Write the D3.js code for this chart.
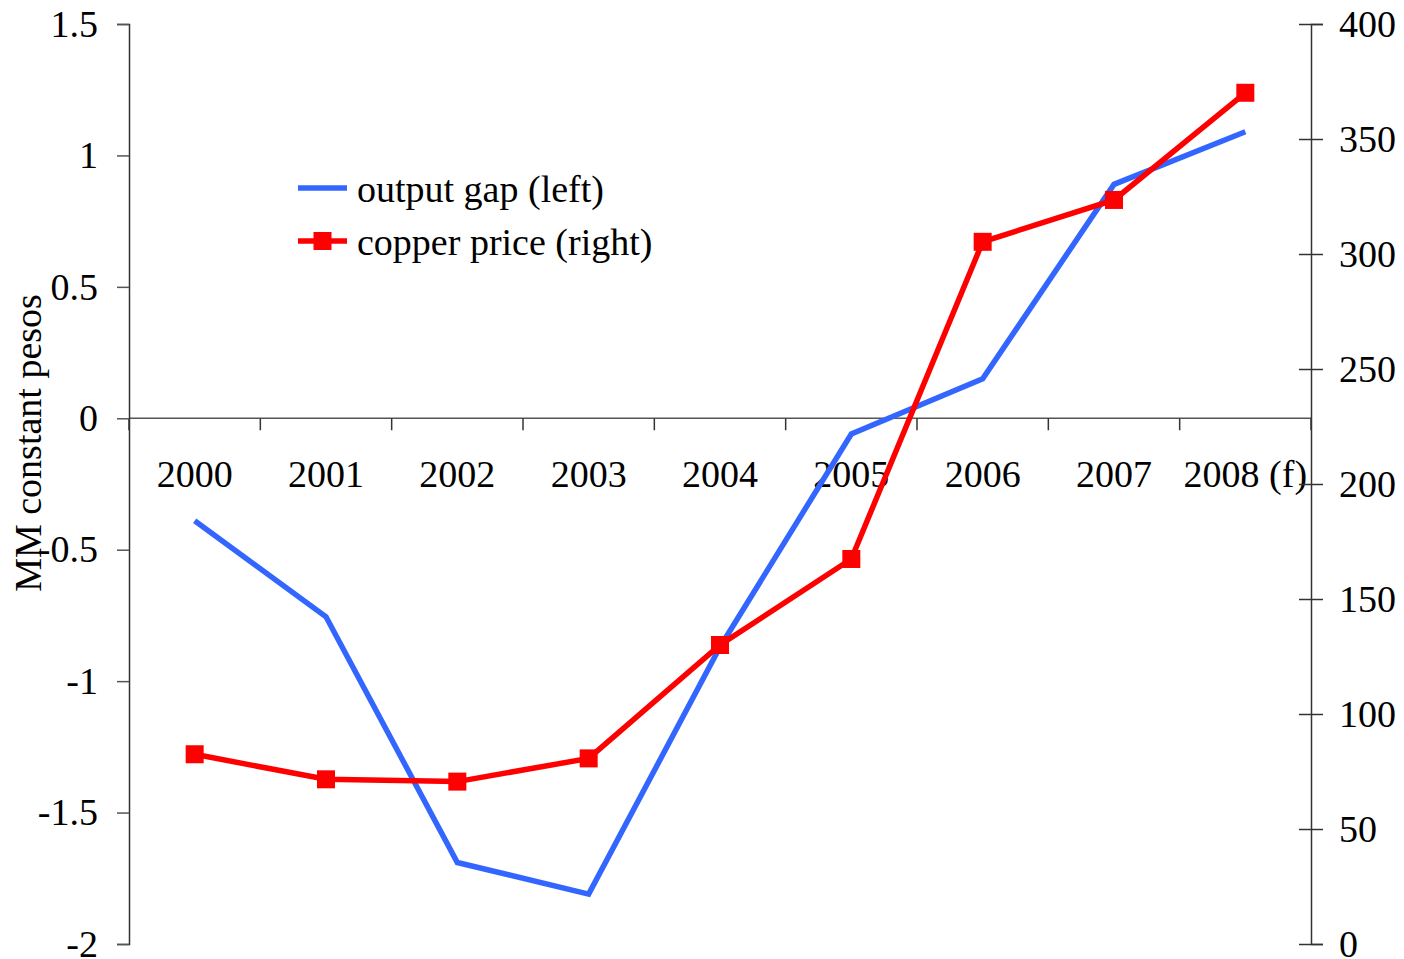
<!DOCTYPE html>
<html>
<head>
<meta charset="utf-8">
<script src="https://cdn.jsdelivr.net/npm/d3@7/dist/d3.min.js"></script>
<style>
  html, body { margin: 0; padding: 0; background: #fff; }
  svg { display: block; }
  text { font-family: "Liberation Serif", "Times New Roman", serif; fill: #000; }
</style>
</head>
<body>
<svg id="chart" width="1404" height="959"></svg>
<script>
// Years on the category axis
const years = ["2000", "2001", "2002", "2003", "2004", "2005", "2006", "2007", "2008 (f)"];
// Output gap, MM constant pesos (left axis)
const outputGap = [-0.39, -0.755, -1.69, -1.81, -0.87, -0.06, 0.15, 0.89, 1.09];
// Copper price (right axis)
const copperPrice = [82.5, 71.6, 70.6, 80.7, 130, 167.4, 305.3, 323.5, 370.1];
// Tick values for both value axes
const leftTicks = [-2, -1.5, -1, -0.5, 0, 0.5, 1, 1.5];
const rightTicks = [0, 50, 100, 150, 200, 250, 300, 350, 400];

const FONT = 38;
const margin = { left: 129, right: 1311, top: 24, bottom: 944 };

const svg = d3.select("#chart");

const x = d3.scaleBand().domain(years).range([margin.left, margin.right]).padding(0);
const yL = d3.scaleLinear().domain([-2, 1.5]).range([margin.bottom, margin.top]);
const yR = d3.scaleLinear().domain([0, 400]).range([margin.bottom, margin.top]);
const cx = d => x(d) + x.bandwidth() / 2;

// Horizontal zero line with category separators
const zeroY = yL(0);
const zero = svg.append("g");
zero.append("line")
  .attr("x1", margin.left).attr("x2", margin.right)
  .attr("y1", zeroY).attr("y2", zeroY)
  .attr("stroke", "#555").attr("stroke-width", 1.5);
zero.selectAll("line.sep")
  .data(years.map(d => x(d)).concat([margin.right]))
  .join("line").attr("class", "sep")
  .attr("x1", d => d).attr("x2", d => d)
  .attr("y1", zeroY).attr("y2", zeroY + 12)
  .attr("stroke", "#333").attr("stroke-width", 1.5);
zero.selectAll("text")
  .data(years)
  .join("text")
  .attr("x", d => cx(d))
  .attr("y", 487)
  .attr("text-anchor", "middle")
  .attr("font-size", FONT)
  .text(d => d);

// Left axis
const left = svg.append("g")
  .attr("transform", `translate(${margin.left},0)`)
  .call(d3.axisLeft(yL).tickValues(leftTicks).tickSize(12).tickPadding(19)
    .tickFormat(d => String(d)));
left.select(".domain").attr("stroke", "#333").attr("stroke-width", 1.5);
left.selectAll(".tick line").attr("stroke", "#555").attr("stroke-width", 1.5);
left.selectAll(".tick text")
  .attr("font-family", "Liberation Serif, Times New Roman, serif")
  .attr("font-size", FONT).attr("fill", "#000");

// Right axis (ticks cross the axis line)
const right = svg.append("g")
  .attr("transform", `translate(${margin.right},0)`)
  .call(d3.axisRight(yR).tickValues(rightTicks).tickSize(12).tickPadding(16)
    .tickFormat(d => String(d)));
right.select(".domain").attr("stroke", "#333").attr("stroke-width", 1.5);
right.selectAll(".tick line").attr("x1", -12).attr("x2", 12)
  .attr("stroke", "#333").attr("stroke-width", 1.5);
right.selectAll(".tick text")
  .attr("font-family", "Liberation Serif, Times New Roman, serif")
  .attr("font-size", FONT).attr("fill", "#000");

// Left axis title
svg.append("text")
  .attr("transform", `translate(41,${443}) rotate(-90)`)
  .attr("text-anchor", "middle")
  .attr("font-size", FONT)
  .text("MM constant pesos");

// Output gap line
const lineL = d3.line().x((d, i) => cx(years[i])).y(d => yL(d));
svg.append("path")
  .datum(outputGap)
  .attr("d", lineL)
  .attr("fill", "none")
  .attr("stroke", "#3366FF")
  .attr("stroke-width", 5.5);

// Copper price line with square markers
const lineR = d3.line().x((d, i) => cx(years[i])).y(d => yR(d));
svg.append("path")
  .datum(copperPrice)
  .attr("d", lineR)
  .attr("fill", "none")
  .attr("stroke", "#FF0000")
  .attr("stroke-width", 5.5);
const M = 18;
svg.selectAll("rect.marker")
  .data(copperPrice)
  .join("rect").attr("class", "marker")
  .attr("x", (d, i) => cx(years[i]) - M / 2)
  .attr("y", d => yR(d) - M / 2)
  .attr("width", M).attr("height", M)
  .attr("fill", "#FF0000");

// Legend
const legend = svg.append("g");
const legendItems = [
  { label: "output gap (left)", color: "#3366FF", marker: false, y: 188 },
  { label: "copper price (right)", color: "#FF0000", marker: true, y: 241 }
];
legendItems.forEach(it => {
  legend.append("line")
    .attr("x1", 298).attr("x2", 347)
    .attr("y1", it.y).attr("y2", it.y)
    .attr("stroke", it.color).attr("stroke-width", 5.5);
  if (it.marker) {
    legend.append("rect")
      .attr("x", 322.5 - M / 2).attr("y", it.y - M / 2)
      .attr("width", M).attr("height", M)
      .attr("fill", it.color);
  }
  legend.append("text")
    .attr("x", 357).attr("y", it.y + 14)
    .attr("font-size", FONT)
    .text(it.label);
});
</script>
</body>
</html>
